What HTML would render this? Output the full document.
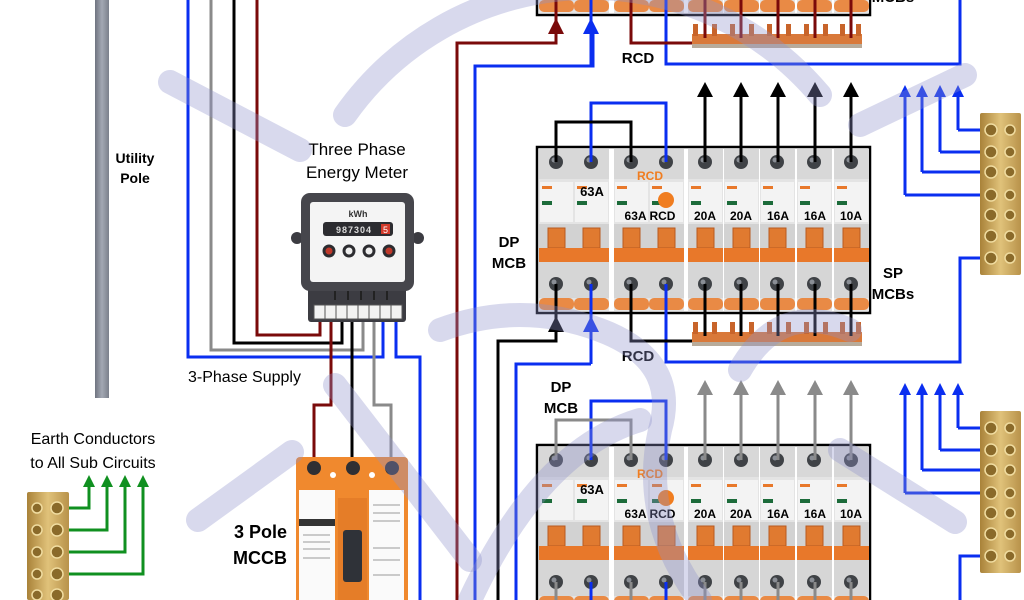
<!DOCTYPE html>
<html><head><meta charset="utf-8"><style>
html,body{margin:0;padding:0;background:#fff;width:1024px;height:600px;overflow:hidden}
svg{display:block}
text{font-family:"Liberation Sans",sans-serif}
</style></head><body>
<svg width="1024" height="600" viewBox="0 0 1024 600" xmlns="http://www.w3.org/2000/svg">
<defs>
<linearGradient id="pole" x1="0" x2="1"><stop offset="0" stop-color="#6f7480"/><stop offset=".5" stop-color="#a3a8b3"/><stop offset="1" stop-color="#7b808b"/></linearGradient>
<linearGradient id="brass" x1="0" x2="1"><stop offset="0" stop-color="#a98239"/><stop offset=".5" stop-color="#e0c27a"/><stop offset="1" stop-color="#b8924a"/></linearGradient>
<g id="half">
<rect x="0" y="149" width="35" height="162" fill="#e4e4e4"/>
<rect x="0" y="149" width="35" height="30" fill="#d8d8d8"/>
<rect x="1" y="182" width="33" height="40" fill="#f3f3f3"/>
<rect x="3" y="186" width="10" height="3" fill="#e8782a"/>
<rect x="3" y="201" width="10" height="4" fill="#1c6b3a"/>
<rect x="0" y="224" width="35" height="26" fill="#d2d2d2"/>
<rect x="9" y="228" width="17" height="20" fill="#e07a30" stroke="#b85a20" stroke-width="1"/>
<rect x="0" y="248" width="35" height="14" fill="#e8782a"/>
<rect x="0" y="262" width="35" height="36" fill="#d6d6d6"/>
<rect x="0" y="298" width="35" height="12" rx="5" fill="#e98a45"/>
<circle cx="17" cy="162" r="7" fill="#3f4246"/><circle cx="15" cy="160" r="2.5" fill="#8a8e95"/>
<circle cx="17" cy="284" r="7" fill="#3f4246"/><circle cx="15" cy="282" r="2.5" fill="#8a8e95"/>
</g>
<g id="tooth"><rect x="0" y="0" width="5" height="12" fill="#c8642a"/></g>
<g id="board">
<rect x="537" y="147" width="333" height="166" fill="#fff" stroke="#000" stroke-width="2.5"/>
<use href="#half" x="539"/><use href="#half" x="574"/>
<use href="#half" x="614"/><use href="#half" x="649"/>
<use href="#half" x="688"/><use href="#half" x="724"/><use href="#half" x="760"/><use href="#half" x="797"/><use href="#half" x="834"/>
<line x1="611" y1="149" x2="611" y2="311" stroke="#fff" stroke-width="3"/>
<circle cx="666" cy="200" r="8" fill="#f07d20"/>
<text x="592" y="196" font-size="13" font-weight="bold" text-anchor="middle">63A</text>
<text x="650" y="180" font-size="12" font-weight="bold" fill="#f07d20" text-anchor="middle">RCD</text>
<text x="650" y="220" font-size="12" font-weight="bold" text-anchor="middle">63A RCD</text>
<text x="705" y="220" font-size="12" font-weight="bold" text-anchor="middle">20A</text>
<text x="741" y="220" font-size="12" font-weight="bold" text-anchor="middle">20A</text>
<text x="778" y="220" font-size="12" font-weight="bold" text-anchor="middle">16A</text>
<text x="815" y="220" font-size="12" font-weight="bold" text-anchor="middle">16A</text>
<text x="851" y="220" font-size="12" font-weight="bold" text-anchor="middle">10A</text>
<rect x="692" y="332" width="170" height="12" fill="#d9793a"/>
<rect x="692" y="342" width="170" height="4" fill="#b8ab9a"/>
<use href="#tooth" x="693" y="322"/><use href="#tooth" x="712" y="322"/>
<use href="#tooth" x="730" y="322"/><use href="#tooth" x="749" y="322"/>
<use href="#tooth" x="767" y="322"/><use href="#tooth" x="786" y="322"/>
<use href="#tooth" x="804" y="322"/><use href="#tooth" x="823" y="322"/>
<use href="#tooth" x="840" y="322"/><use href="#tooth" x="856" y="322"/>
<g stroke="#0a2ef0" stroke-width="3" fill="none">
<path d="M591 162V103H666V162"/>
<path d="M666 284V362H960V258H985"/>
<path d="M591 284V364"/>
<path d="M958 130H985M958 130V95"/>
<path d="M940 152H985M940 152V95"/>
<path d="M922 172H985M922 172V95"/>
<path d="M905 195H985M905 195V95"/>
</g>
<g fill="#0a2ef0">
<polygon points="583,332 599,332 591,316"/>
<polygon points="952,97 964,97 958,85"/><polygon points="934,97 946,97 940,85"/>
<polygon points="916,97 928,97 922,85"/><polygon points="899,97 911,97 905,85"/>
</g>
<rect x="980" y="113" width="41" height="162" rx="2" fill="url(#brass)"/>
<g fill="#8a6a2a" stroke="#f0dca0" stroke-width="1.5">
<circle cx="991" cy="130" r="6"/><circle cx="1010" cy="130" r="5"/>
<circle cx="991" cy="152" r="6"/><circle cx="1010" cy="152" r="5"/>
<circle cx="991" cy="172" r="6"/><circle cx="1010" cy="172" r="5"/>
<circle cx="991" cy="195" r="6"/><circle cx="1010" cy="195" r="5"/>
<circle cx="991" cy="215" r="6"/><circle cx="1010" cy="215" r="5"/>
<circle cx="991" cy="236" r="6"/><circle cx="1010" cy="236" r="5"/>
<circle cx="991" cy="258" r="6"/><circle cx="1010" cy="258" r="5"/>
</g>
</g>
<g id="phaseWires" fill="none" stroke-width="3">
<path d="M556 162V122H631V162"/>
<path d="M705 162V95M741 162V95M778 162V95M815 162V95M851 162V95"/>
<path d="M631 284V341H692"/>
<path d="M705 284V336M741 284V336M778 284V336M815 284V336M851 284V336"/>
<path d="M556 284V330"/>
</g>
<g id="phaseHeads">
<polygon points="697,97 713,97 705,82"/><polygon points="733,97 749,97 741,82"/>
<polygon points="770,97 786,97 778,82"/><polygon points="807,97 823,97 815,82"/>
<polygon points="843,97 859,97 851,82"/>
<polygon points="548,332 564,332 556,316"/>
</g>
</defs>

<rect x="95" y="0" width="14" height="398" fill="url(#pole)"/>
<g fill="none" stroke-width="3">
<path d="M188 0V357H383V320" stroke="#0a2ef0"/>
<path d="M211 0V350H363V320" stroke="#8a8a8a"/>
<path d="M234 0V343H342V320" stroke="#000"/>
<path d="M257 0V335H320V320" stroke="#7a0a0a"/>
<path d="M331 320V405H314V468" stroke="#7a0a0a"/>
<path d="M352 320V468" stroke="#000"/>
<path d="M374 320V405H391V468" stroke="#8a8a8a"/>
<path d="M396 320V357H420V600" stroke="#0a2ef0"/>
<path d="M457 600V43H556V30" stroke="#7a0a0a"/>
<path d="M475 600V66H593V30" stroke="#0a2ef0"/>
<path d="M498 600V341H556V330" stroke="#000"/>
<path d="M516 600V364H591" stroke="#0a2ef0"/>
</g>

<g transform="translate(0,-298)">
<use href="#board"/>
<use href="#phaseWires" stroke="#7a0a0a"/>
<use href="#phaseHeads" fill="#7a0a0a"/>
</g>
<use href="#board"/>
<use href="#phaseWires" stroke="#000"/>
<use href="#phaseHeads" fill="#000"/>
<g transform="translate(0,298)">
<use href="#board"/>
<use href="#phaseWires" stroke="#8a8a8a"/>
<use href="#phaseHeads" fill="#8a8a8a"/>
</g>

<rect x="308" y="284" width="98" height="38" rx="3" fill="#3c3c42"/>
<g fill="#f2f2f2" stroke="#555" stroke-width="1">
<rect x="314" y="305" width="11" height="14"/><rect x="325" y="305" width="11" height="14"/>
<rect x="336" y="305" width="11" height="14"/><rect x="347" y="305" width="11" height="14"/>
<rect x="358" y="305" width="11" height="14"/><rect x="369" y="305" width="11" height="14"/>
<rect x="380" y="305" width="11" height="14"/><rect x="391" y="305" width="11" height="14"/>
</g>
<g stroke="#222" stroke-width="2"><path d="M335 290V300M348 290V300M361 290V300M374 290V300M387 290V300"/></g>
<circle cx="297" cy="238" r="6" fill="#3c3c42"/><circle cx="418" cy="238" r="6" fill="#3c3c42"/>
<rect x="301" y="193" width="113" height="98" rx="9" fill="#46464c"/>
<rect x="310" y="202" width="95" height="80" rx="3" fill="#f4f4f4"/>
<text x="358" y="217" font-size="9" font-weight="bold" text-anchor="middle" fill="#333">kWh</text>
<rect x="323" y="222" width="70" height="14" rx="3" fill="#2c2c30"/>
<text x="354" y="233" font-size="9" font-weight="bold" fill="#ddd" text-anchor="middle" letter-spacing="1">987304</text>
<rect x="381" y="224" width="9" height="10" fill="#d23a2a"/>
<text x="385.5" y="233" font-size="9" fill="#fff" text-anchor="middle">5</text>
<g stroke="#2c2c30" stroke-width="3"><circle cx="329" cy="251" r="5" fill="#c0392b"/><circle cx="349" cy="251" r="5" fill="#eee"/><circle cx="369" cy="251" r="5" fill="#eee"/><circle cx="389" cy="251" r="5" fill="#c0392b"/></g>

<rect x="296" y="457" width="112" height="150" rx="4" fill="#f0892e"/>
<g fill="#2f2f33"><circle cx="314" cy="468" r="7"/><circle cx="353" cy="468" r="7"/><circle cx="392" cy="468" r="7"/></g>
<g fill="#fff"><circle cx="333" cy="475" r="3"/><circle cx="372" cy="475" r="3"/></g>
<rect x="299" y="490" width="36" height="110" fill="#fafafa"/>
<rect x="299" y="519" width="36" height="7" fill="#333"/>
<rect x="369" y="490" width="35" height="110" fill="#fafafa"/>
<rect x="338" y="498" width="29" height="102" fill="#e57d28"/>
<rect x="343" y="530" width="19" height="52" rx="3" fill="#2f3238"/>
<g stroke="#999" stroke-width="1"><path d="M303 535H330M303 542H330M303 549H330M303 558H330M373 505H400M373 513H400M373 521H400M373 548H400M373 560H400M373 575H400"/></g>

<g fill="none" stroke="#109020" stroke-width="3">
<path d="M68 508H89V485M68 530H107V485M68 552H125V485M68 574H143V485"/>
</g>
<g fill="#109020"><polygon points="83,487 95,487 89,475"/><polygon points="101,487 113,487 107,475"/><polygon points="119,487 131,487 125,475"/><polygon points="137,487 149,487 143,475"/></g>
<rect x="27" y="492" width="42" height="108" rx="2" fill="url(#brass)"/>
<g fill="#8a6a2a" stroke="#f0dca0" stroke-width="1.5">
<circle cx="37" cy="508" r="5"/><circle cx="57" cy="508" r="6"/>
<circle cx="37" cy="530" r="5"/><circle cx="57" cy="530" r="6"/>
<circle cx="37" cy="552" r="5"/><circle cx="57" cy="552" r="6"/>
<circle cx="37" cy="574" r="5"/><circle cx="57" cy="574" r="6"/>
<circle cx="37" cy="595" r="5"/><circle cx="57" cy="595" r="6"/>
</g>

<text x="135" y="163" font-size="14" font-weight="bold" text-anchor="middle">Utility</text>
<text x="135" y="183" font-size="14" font-weight="bold" text-anchor="middle">Pole</text>
<text x="357" y="155" font-size="17" text-anchor="middle">Three Phase</text>
<text x="357" y="178" font-size="17" text-anchor="middle">Energy Meter</text>
<text x="188" y="382" font-size="16">3-Phase Supply</text>
<text x="93" y="444" font-size="16" text-anchor="middle">Earth Conductors</text>
<text x="93" y="468" font-size="16" text-anchor="middle">to All Sub Circuits</text>
<text x="287" y="538" font-size="18" font-weight="bold" text-anchor="end">3 Pole</text>
<text x="287" y="564" font-size="18" font-weight="bold" text-anchor="end">MCCB</text>
<text x="509" y="247" font-size="15" font-weight="bold" text-anchor="middle">DP</text>
<text x="509" y="268" font-size="15" font-weight="bold" text-anchor="middle">MCB</text>
<text x="893" y="278" font-size="15" font-weight="bold" text-anchor="middle">SP</text>
<text x="893" y="299" font-size="15" font-weight="bold" text-anchor="middle">MCBs</text>
<text x="893" y="2" font-size="15" font-weight="bold" text-anchor="middle">MCBs</text>
<text x="638" y="63" font-size="15" font-weight="bold" text-anchor="middle">RCD</text>
<text x="638" y="361" font-size="15" font-weight="bold" text-anchor="middle">RCD</text>
<text x="561" y="392" font-size="15" font-weight="bold" text-anchor="middle">DP</text>
<text x="561" y="413" font-size="15" font-weight="bold" text-anchor="middle">MCB</text>

<g fill="none" stroke="#8e93cc" stroke-opacity="0.35" stroke-width="24" stroke-linecap="round">
<path d="M170 82L300 150"/>
<path d="M345 115A300 300 0 0 1 820 95"/>
<path d="M860 125L965 75"/>
<path d="M198 520L292 452"/>
<path d="M335 385L470 560"/>
<path d="M440 330Q520 300 600 330Q680 360 660 430Q640 520 700 600"/>
<path d="M840 450L955 522"/>
<path d="M470 600Q540 450 640 420"/>
<path d="M740 370Q780 300 850 330"/>
</g>
</svg>
</body></html>
